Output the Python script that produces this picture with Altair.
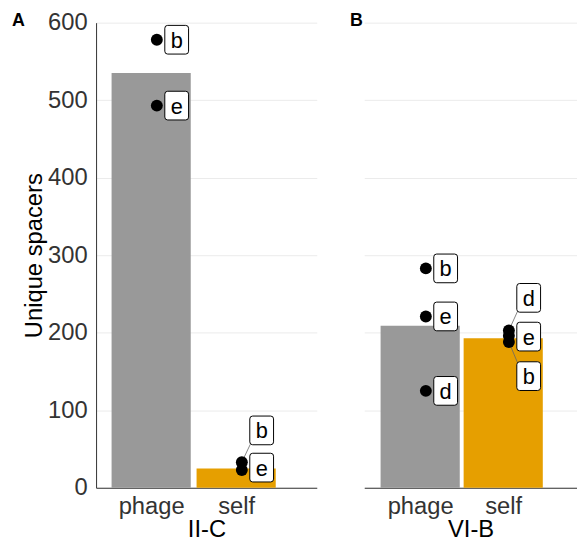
import altair as alt
import pandas as pd

FONT = "Liberation Sans"

# ---- data ----
panels = ["II-C", "VI-B"]
panel_tags = ["A", "B"]
groups = ["phage", "self"]
group_colors = ["#999999", "#E69F00"]

bar_panel = ["II-C", "II-C", "VI-B", "VI-B"]
bar_group = ["phage", "self", "phage", "self"]
bar_values = [535, 25, 209, 193]

pt_panel = ["II-C", "II-C", "II-C", "II-C", "VI-B", "VI-B", "VI-B", "VI-B", "VI-B", "VI-B"]
pt_group = ["phage", "phage", "self", "self", "phage", "phage", "phage", "self", "self", "self"]
pt_label = ["b", "e", "b", "e", "b", "e", "d", "d", "e", "b"]
pt_values = [578, 493, 33, 23, 283, 221, 125, 203, 196, 188]
label_values = [578, 493, 74, 26, 283, 221, 125, 245, 195, 144]

y_ticks = list(range(0, 601, 50))

bars_all = pd.DataFrame({"panel": bar_panel, "group": bar_group, "value": bar_values})
bars_all["pos"] = bars_all["group"].map({g: i + 1 for i, g in enumerate(groups)})
bars_all["base"] = 0

pts_all = pd.DataFrame({"panel": pt_panel, "group": pt_group, "label": pt_label,
                        "value": pt_values, "label_y": label_values})
pts_all["pos"] = pts_all["group"].map({g: i + 1 for i, g in enumerate(groups)})

BOX_PATH = ("M-0.628,-1 L0.628,-1 Q0.828,-1 0.828,-0.8 L0.828,0.8 Q0.828,1 0.628,1 "
            "L-0.628,1 Q-0.828,1 -0.828,0.8 L-0.828,-0.8 Q-0.828,-1 -0.628,-1 Z")

label_expr = "[" + ",".join("'" + g + "'" for g in groups) + "][datum.value - 1]"

PLOT_H = 470
TICK_COLOR = "#333333"


def make_panel(name, tag, width, domain, show_y, tag_x, tag_align):
    step = width / (domain[1] - domain[0])
    bars = bars_all[bars_all.panel == name].copy()
    pts = pts_all[pts_all.panel == name].copy()
    pts["px"] = pts["pos"] + 6 / step
    pts["lx"] = pts["px"] + 21 / step
    con = pts[(pts["label_y"] - pts["value"]).abs() > 5].copy()
    con["ex"] = con["px"] + 9 / step
    sign = (con["label_y"] - con["value"]).apply(lambda d: 1 if d > 0 else -1)
    con["ey"] = con["label_y"] - sign * 14 * 600 / PLOT_H

    xs = alt.Scale(domain=domain, nice=False, zero=False)
    ys = alt.Scale(domain=[0, 600], nice=False)

    x_axis = alt.Axis(values=[1, 2], labelExpr=label_expr, grid=False, ticks=False,
                      domain=True, domainColor="#333333", domainWidth=1,
                      labelFontSize=24, labelColor=TICK_COLOR, labelFont=FONT,
                      labelPadding=7, titleFontSize=24, titleFont=FONT,
                      titleColor="#000000", titleFontWeight="normal", titlePadding=-1)
    if show_y:
        y_axis = alt.Axis(values=y_ticks,
                          labelExpr="datum.value % 100 === 0 ? datum.label : ''",
                          ticks=False, domain=True, domainColor="#333333", domainWidth=1,
                          gridColor="#EBEBEB", labelFontSize=24, labelColor=TICK_COLOR,
                          labelFont=FONT, labelPadding=9, titleFontSize=24, titleFont=FONT,
                          titleColor="#000000", titleFontWeight="normal", titlePadding=1)
        y_title = "Unique spacers"
    else:
        y_axis = alt.Axis(values=y_ticks, labels=False, ticks=False, domain=False,
                          gridColor="#EBEBEB")
        y_title = None

    base_bar = alt.Chart(bars).mark_bar(orient="vertical", width=80).encode(
        x=alt.X("pos:Q", scale=xs, axis=x_axis, title=name),
        y=alt.Y("value:Q", scale=ys, axis=y_axis, title=y_title),
        y2="base:Q",
        color=alt.Color("group:N", scale=alt.Scale(domain=groups, range=group_colors),
                        legend=None),
    )
    rules = alt.Chart(con).mark_rule(color="#666666", strokeWidth=0.8).encode(
        x="px:Q", y="value:Q", x2="ex:Q", y2="ey:Q")
    dots = alt.Chart(pts).mark_circle(size=145, color="#000000", opacity=1).encode(
        x="px:Q", y="value:Q")
    boxes = alt.Chart(pts).mark_point(shape=BOX_PATH, size=841, filled=True,
                                      fill="#FFFFFF", stroke="#000000", strokeWidth=1,
                                      opacity=1).encode(x="lx:Q", y="label_y:Q")
    texts = alt.Chart(pts).mark_text(fontSize=22, font=FONT, color="#000000",
                                     baseline="middle", align="center", dy=1).encode(
        x="lx:Q", y="label_y:Q", text="label:N")
    tag_layer = alt.Chart(pd.DataFrame({"tag": [tag]})).mark_text(
        fontSize=18, font=FONT, fontWeight="bold", color="#000000",
        align=tag_align, baseline="alphabetic").encode(
        x=alt.value(tag_x), y=alt.value(3), text="tag:N")

    return alt.layer(base_bar, rules, dots, boxes, texts, tag_layer).properties(
        width=width, height=PLOT_H)


pA = make_panel(panels[0], panel_tags[0], 223, [0.41, 2.89], True, -85, "left")
pB = make_panel(panels[1], panel_tags[1], 215, [0.386, 2.829], False, -8, "center")

chart = alt.hconcat(pA, pB, spacing=48, bounds="flush").resolve_scale(
    x="independent", y="independent", color="independent"
).properties(padding={"left": 4, "top": 0, "right": 0, "bottom": 0}).configure_view(
    stroke=None
)

chart.save("out.html", embed_options={"renderer": "svg", "actions": False})
